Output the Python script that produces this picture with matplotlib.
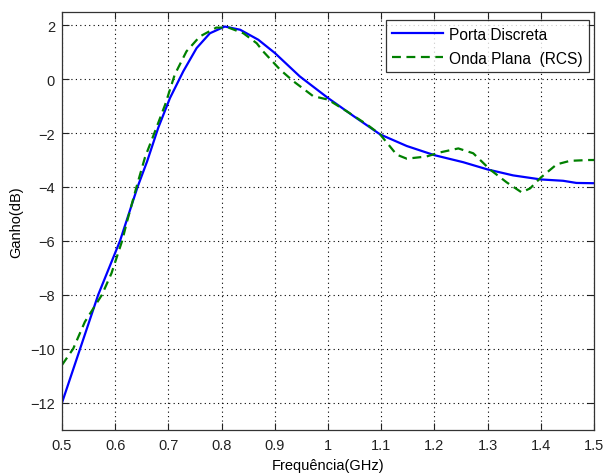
import matplotlib
matplotlib.use("Agg")
import matplotlib.pyplot as plt

plt.rcParams['font.family'] = ['Liberation Sans', 'DejaVu Sans']

blue_x = [0.50, 0.534, 0.568, 0.609, 0.642, 0.66, 0.681, 0.703, 0.728, 0.753,
          0.778, 0.806, 0.835, 0.869, 0.90, 0.947, 1.0, 1.048, 1.098, 1.148, 1.2, 1.254,
          1.30, 1.348, 1.40, 1.442, 1.467, 1.5]
blue_y = [-12.0, -10.0, -8.0, -6.0, -4.0, -3.05, -1.8, -0.7, 0.29, 1.15,
          1.7, 1.95, 1.83, 1.46, 0.97, 0.1, -0.7, -1.37, -2.05, -2.48, -2.82, -3.08,
          -3.35, -3.57, -3.72, -3.77, -3.85, -3.86]

green_x = [0.5, 0.521, 0.543, 0.559, 0.575, 0.593, 0.613, 0.622, 0.64, 0.656, 0.675, 0.694,
           0.712, 0.734, 0.759, 0.79, 0.813, 0.841, 0.866, 0.878, 0.91, 0.935, 0.972, 1.0,
           1.035, 1.073, 1.098, 1.129, 1.148, 1.185, 1.21, 1.245, 1.273, 1.305, 1.336,
           1.364, 1.38, 1.40, 1.43, 1.455, 1.49, 1.5]
green_y = [-10.6, -10.0, -9.0, -8.5, -8.0, -7.2, -6.0, -5.3, -4.0, -2.9, -1.93, -0.94,
           0.17, 1.03, 1.58, 1.91, 1.91, 1.7, 1.33, 1.03, 0.35, -0.08, -0.63, -0.76,
           -1.19, -1.68, -2.05, -2.8, -2.95, -2.87, -2.72, -2.57, -2.75, -3.36, -3.83,
           -4.2, -4.05, -3.65, -3.16, -3.03, -3.0, -3.0]

series_labels = ["Porta Discreta", "Onda Plana  (RCS)"]
x_ticks = [0.5, 0.6, 0.7, 0.8, 0.9, 1.0, 1.1, 1.2, 1.3, 1.4, 1.5]
x_tick_labels = ["0.5", "0.6", "0.7", "0.8", "0.9", "1", "1.1", "1.2", "1.3", "1.4", "1.5"]
y_ticks = [-12, -10, -8, -6, -4, -2, 0, 2]

fig = plt.figure(figsize=(6.06, 4.77), dpi=100)
ax = fig.add_axes([62/606, 1-430.7/477, (594-62)/606, (430.7-12.7)/477])

ax.plot(blue_x, blue_y, color=(0, 0, 1), lw=1.6, label=series_labels[0])
ax.plot(green_x, green_y, color=(0, 0.5, 0), lw=1.6, dashes=(4, 2.5), label=series_labels[1])

ax.set_xlim(0.5, 1.5)
ax.set_ylim(-13, 2.5)
ax.set_xticks(x_ticks)
ax.set_xticklabels(x_tick_labels)
ax.set_yticks(y_ticks)
ax.tick_params(direction='in', top=True, right=True, length=5, labelsize=10.5, width=0.8,
               colors='#222222')
ax.tick_params(axis='x', pad=6)
ax.tick_params(axis='y', pad=5)
ax.grid(True, linestyle=(0, (1, 3)), color='black', lw=0.8)
for s in ax.spines.values():
    s.set_color('#333333')
    s.set_linewidth(0.9)

ax.set_xlabel("Frequência(GHz)", fontsize=10.5, labelpad=4)
ax.set_ylabel("Ganho(dB)", fontsize=10.5, labelpad=5)

leg = ax.legend(loc='upper right', bbox_to_anchor=((589-62)/532, 1-(21-12.7)/418),
                borderaxespad=0, fontsize=11.2, handlelength=3.3, frameon=True,
                fancybox=False, edgecolor='black', labelspacing=0.6,
                borderpad=0.42, handletextpad=0.35)
leg.get_frame().set_linewidth(0.9)

fig.savefig("out.png", dpi=100)
